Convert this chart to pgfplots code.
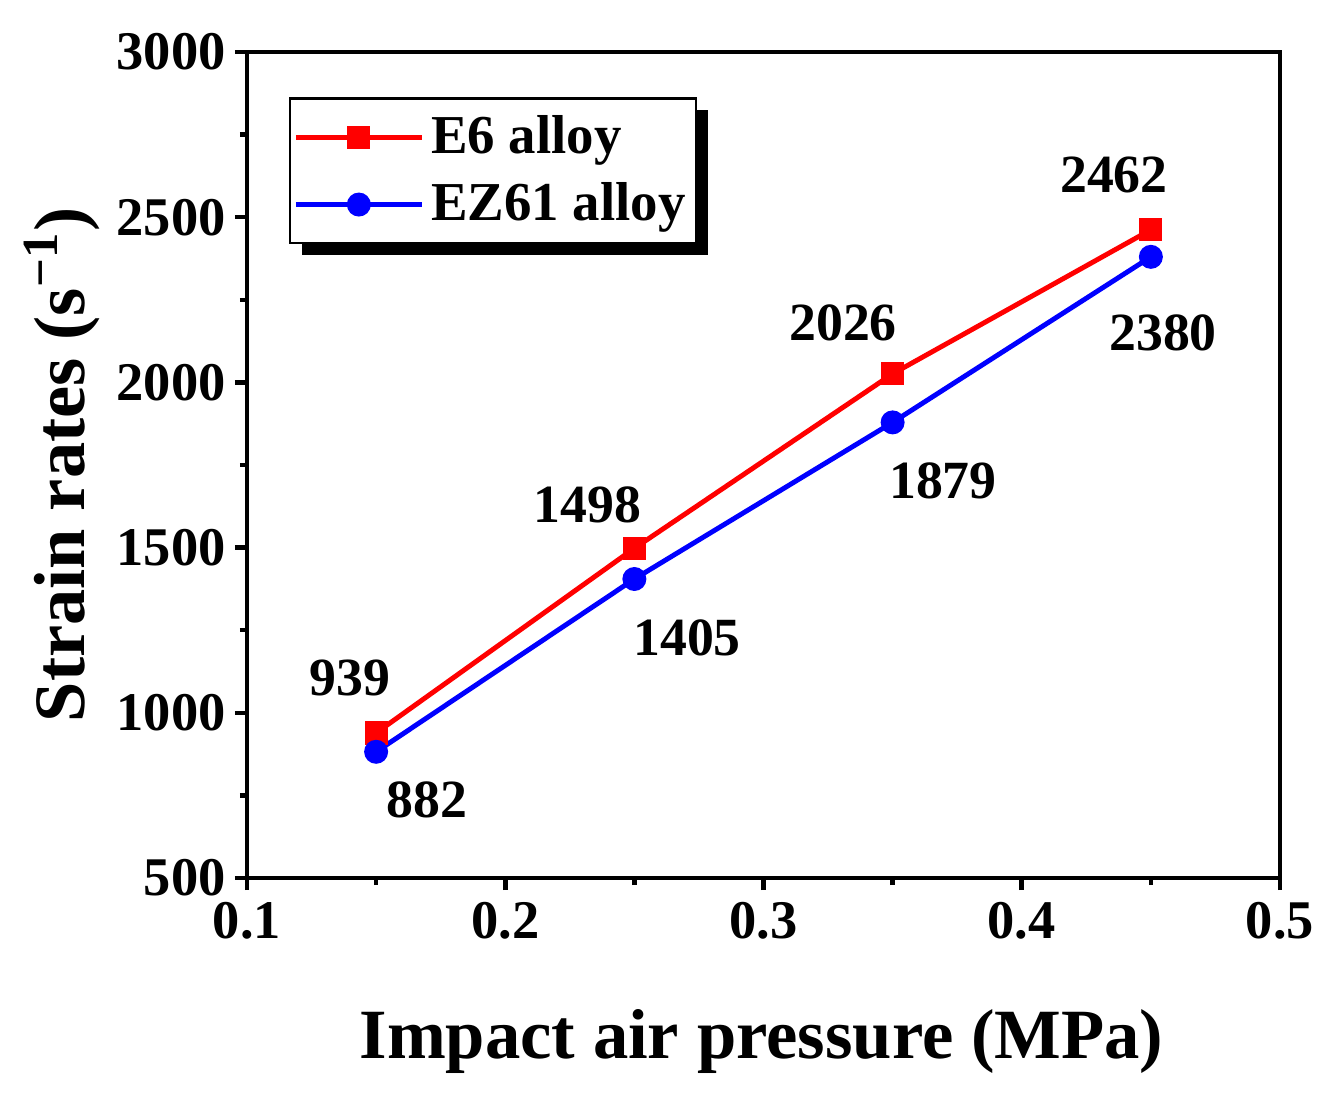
\documentclass[border=0pt]{standalone}
\usepackage{fontspec}
\setmainfont{Liberation Serif}
\usepackage{pgfplots}
\pgfplotsset{compat=1.18}
\usetikzlibrary{shadows}
\makeatletter
\tikzset{no preactions/.code={\let\tikz@preactions\pgfutil@empty}}
\makeatother
\begin{document}
\begin{tikzpicture}
\useasboundingbox (-2.47cm,-2.16cm) rectangle (10.84cm,8.78cm);
\begin{axis}[
  at={(0,0)}, anchor=south west,
  scale only axis, width=10.33cm, height=8.26cm,
  xmin=0.1, xmax=0.5, ymin=500, ymax=3000,
  xtick={0.1,0.2,0.3,0.4,0.5},
  ytick={500,1000,1500,2000,2500,3000},
  minor x tick num=1, minor y tick num=1,
  xtick pos=left, ytick pos=left,
  tick align=outside,
  major tick length=0.12cm, minor tick length=0.07cm,
  every tick/.style={black, line width=1.3pt},
  axis line style={line width=1.4pt},
  /pgf/number format/assume math mode=true,
  xticklabel style={font=\fontsize{15.5}{17}\selectfont\bfseries, /pgf/number format/fixed, /pgf/number format/precision=1},
  yticklabel style={font=\fontsize{15.5}{17}\selectfont\bfseries, /pgf/number format/1000 sep={}, xshift=0.03cm},
  scaled x ticks=false,
  xlabel={Impact air pressure (MPa)},
  ylabel={Strain rates (s\textsuperscript{−1})},
  xlabel style={font=\fontsize{20.1}{22}\selectfont\bfseries, at={(axis description cs:0.498,-0.144)}, anchor=north},
  ylabel style={font=\fontsize{20.6}{22}\selectfont\bfseries, at={(axis description cs:-0.179,0.5)}, anchor=center, rotate=0},
  legend style={at={(axis description cs:0.041,0.945)}, anchor=north west,
    draw=black, line width=0.6pt, fill=white,
    drop shadow={shadow xshift=0.12cm, shadow yshift=-0.12cm, fill=black, opacity=1},
    font=\fontsize{15.6}{17}\selectfont\bfseries,
    row sep=0.1cm, inner xsep=0.03cm, inner ysep=0.1cm},
  legend cell align=left,
  legend image code/.code={
    \draw[no preactions, #1, mark repeat=2, mark phase=2] plot coordinates {(0cm,0cm) (0.63cm,0cm) (1.26cm,0cm)};
  },
]
\addplot[red, line width=1.4pt, mark=square*, mark size=2.6pt, mark options={solid, fill=red}]
  coordinates {(0.15,939) (0.25,1498) (0.35,2026) (0.45,2462)};
\addlegendentry{E6 alloy}
\addplot[blue, line width=1.4pt, mark=*, mark size=2.7pt, mark options={solid, fill=blue}]
  coordinates {(0.15,882) (0.25,1405) (0.35,1879) (0.45,2380)};
\addlegendentry{EZ61 alloy}
\begin{scope}[every node/.style={font=\fontsize{15.3}{17}\selectfont\bfseries}]
\node at (axis cs:0.1399,1105) {939};
\node at (axis cs:0.1697,736) {882};
\node at (axis cs:0.2317,1629) {1498};
\node at (axis cs:0.2704,1226) {1405};
\node at (axis cs:0.3308,2180) {2026};
\node at (axis cs:0.3695,1702) {1879};
\node at (axis cs:0.4357,2628) {2462};
\node at (axis cs:0.4547,2150) {2380};
\end{scope}
\end{axis}
\end{tikzpicture}
\end{document}
